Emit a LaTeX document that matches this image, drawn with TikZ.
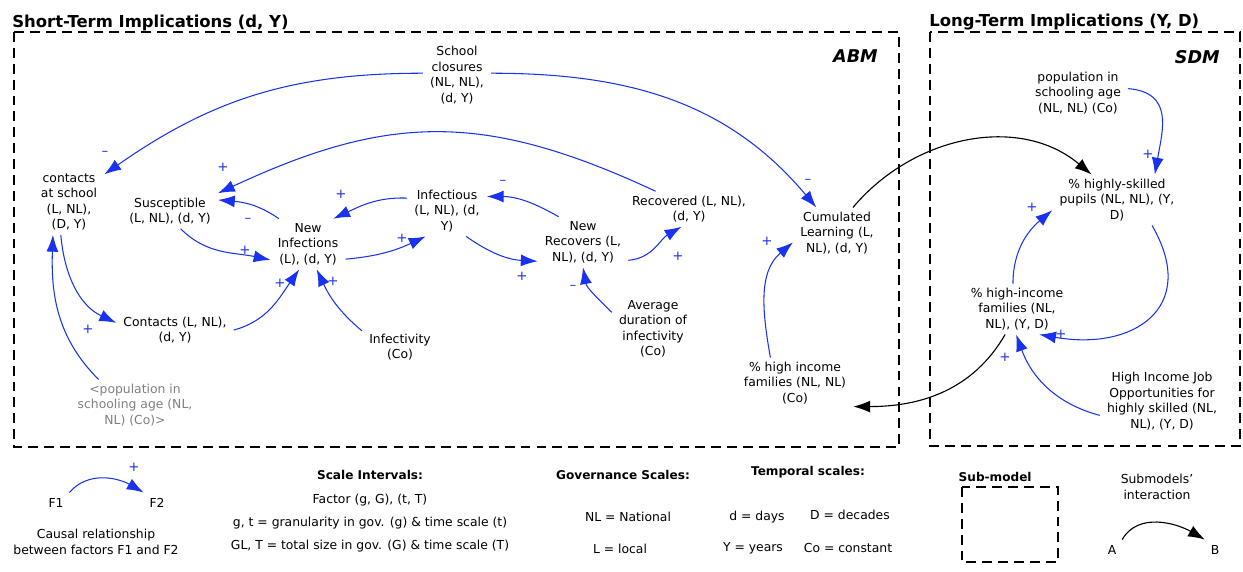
\documentclass[tikz,border=0pt]{standalone}
\usepackage{fontspec}
\setmainfont{DejaVu Sans}
\usetikzlibrary{arrows.meta}
\definecolor{linkblue}{RGB}{25,50,240}
\definecolor{ghostgray}{RGB}{128,128,128}

\begin{document}
\begin{tikzpicture}[x=0.025cm, y=0.025cm,
  var/.style={align=center, font=\fontsize{8.8}{11}\selectfont, inner xsep=5pt, inner ysep=3pt},
  sign/.style={text=linkblue, font=\fontsize{9.5}{10}\selectfont, inner sep=0pt},
  causal/.style={draw=linkblue, line width=0.75pt, -{Latex[length=4.2mm,width=3mm]}},
  couple/.style={draw=black, line width=0.8pt, -{Latex[length=4.2mm,width=3mm]}},
  modelbox/.style={draw, line width=2.1pt, dash pattern=on 7pt off 4.3pt},
  heading/.style={font=\bfseries\fontsize{11.7}{14}\selectfont, anchor=base west, inner sep=0pt},
  tag/.style={font=\bfseries\itshape\fontsize{12.5}{14}\selectfont, anchor=base east, inner sep=0pt},
  legendtext/.style={font=\fontsize{8.8}{11}\selectfont, align=center, inner sep=1pt},
  legendhead/.style={legendtext, font=\bfseries\fontsize{8.6}{11}\selectfont}
]
\useasboundingbox (0,0) rectangle (1243,-572);

% sub-model frames
\draw[modelbox] (14,-32) rectangle (899,-447);
\draw[modelbox] (930,-32) rectangle (1240,-446);
\node[heading] (shortterm) at (12,-27) {Short-Term Implications (d, Y)};
\node[heading] (longterm) at (929,-26) {Long-Term Implications (Y, D)};
\node[tag] (abm) at (878,-62) {ABM};
\node[tag] (sdm) at (1220,-63) {SDM};

% ABM variables
\node[var] (closure) at (457,-75) {School\\closures\\(NL, NL),\\(d, Y)};
\node[var] (cschool) at (69,-202) {contacts\\at school\\(L, NL),\\(D, Y)};
\node[var] (suscept) at (170,-211) {Susceptible\\(L, NL), (d, Y)};
\node[var] (newinf) at (308,-244) {New\\Infections\\(L), (d, Y)};
\node[var] (infectious) at (447,-211) {Infectious\\(L, NL), (d,\\Y)};
\node[var] (newrec) at (583,-242) {New\\Recovers (L,\\NL), (d, Y)};
\node[var] (recovered) at (689,-209) {Recovered (L, NL),\\(d, Y)};
\node[var] (cumlearn) at (837,-233) {Cumulated\\Learning (L,\\NL), (d, Y)};
\node[var] (contacts) at (175,-330) {Contacts (L, NL),\\(d, Y)};
\node[var] (infectivity) at (400,-347) {Infectivity\\(Co)};
\node[var] (avgdur) at (653,-329) {Average\\duration of\\infectivity\\(Co)};
\node[var] (hincome) at (795,-383) {\% high income\\families (NL, NL)\\(Co)};
\node[var, text=ghostgray] (popabm) at (135,-405) {<population in\\schooling age (NL,\\NL) (Co)>};

% SDM variables
\node[var] (popsdm) at (1078,-93) {population in\\schooling age\\(NL, NL) (Co)};
\node[var] (hskilled) at (1117,-200) {\% highly-skilled\\pupils (NL, NL), (Y,\\D)};
\node[var] (hifam) at (1017,-309) {\% high-income\\families (NL,\\NL), (Y, D)};
\node[var] (hijob) at (1162,-401) {High Income Job\\Opportunities for\\highly skilled (NL,\\NL), (Y, D)};

% causal links
\draw[causal] (closure.177) to[out=180,in=35] (cschool.38);
\draw[causal] (closure.3) to[out=0,in=130] (cumlearn.129);
\draw[causal] (recovered.152) to[out=155,in=25,looseness=1.1] (suscept.north east);
\draw[causal] (newinf.139) to[out=145,in=-5] (suscept.13);
\draw[causal] (suscept.-59) to[out=-45,in=168] (newinf.203);
\draw[causal] (infectious.162) to[out=178,in=25] (newinf.45);
\draw[causal] (newinf.-22) to[out=5,in=205] (infectious.230);
\draw[causal] (newrec.134) to[out=150,in=0] (infectious.20);
\draw[causal] (infectious.-53) to[out=-35,in=177] (newrec.203);
\draw[causal] (newrec.-22) to[out=5,in=210] (recovered.247);
\draw[causal] (avgdur.158) to[out=135,in=-80] (newrec.270);
\draw[causal] (cschool.256) to[out=-85,in=155] (contacts.173);
\draw[causal] (popabm.145) to[out=135,in=-92] (cschool.244);
\draw[causal] (contacts.east) to[out=15,in=235] (newinf.251);
\draw[causal] (infectivity.157) to[out=140,in=-65] (newinf.289);
\draw[causal] (hincome.134) to[out=100,in=220] (cumlearn.192);
\draw[causal] (popsdm.5) to[out=-5,in=80,looseness=1.3] (hskilled.34);
\draw[causal] (hifam.99) to[out=90,in=220] (hskilled.189);
\draw[causal] (hskilled.-36) to[out=-60,in=-10,looseness=1.55] (hifam.311);
\draw[causal] (hijob.193) to[out=165,in=-70] (hifam.268);

% links between sub-models
\draw[couple] (cumlearn.58) to[out=50,in=140] (hskilled.135);
\draw[couple] (hifam.245) to[out=240,in=0] (hincome.-22);

% polarities
\node[sign] (p1) at (105,-153) {--};
\node[sign] (p2) at (808,-181) {--};
\node[sign] (p3) at (223,-167) {+};
\node[sign] (p4) at (248,-220) {--};
\node[sign] (p5) at (245,-250) {+};
\node[sign] (p6) at (341,-194) {+};
\node[sign] (p7) at (402,-238) {+};
\node[sign] (p8) at (503,-182) {--};
\node[sign] (p9) at (522,-276) {+};
\node[sign] (p10) at (678,-256) {+};
\node[sign] (p11) at (573,-287) {--};
\node[sign] (p12) at (88,-329) {+};
\node[sign] (p13) at (280,-283) {+};
\node[sign] (p14) at (333,-281) {+};
\node[sign] (p15) at (767,-241) {+};
\node[sign] (p16) at (1148,-154) {+};
\node[sign] (p17) at (1032,-207) {+};
\node[sign] (p18) at (1061,-334) {+};
\node[sign] (p19) at (1005,-357) {+};

% legend
\node[legendtext, inner sep=4pt] (f1) at (56,-503) {F1};
\node[legendtext, inner sep=4pt] (f2) at (157,-503) {F2};
\draw[causal] (f1.north east) to[out=50,in=150] (f2.north west);
\node[sign] (fplus) at (134,-467) {+};
\node[legendtext] (causaltext) at (96,-542) {Causal relationship\\between factors F1 and F2};

\node[legendhead] (scalehead) at (370,-475) {Scale Intervals:};
\node[legendtext] (factor) at (370,-500) {Factor (g, G), (t, T)};
\node[legendtext] (granul) at (370,-523) {g, t = granularity in gov. (g) \& time scale (t)};
\node[legendtext] (totsize) at (370,-546) {GL, T = total size in gov. (G) \& time scale (T)};

\node[legendhead] (govhead) at (623,-475) {Governance Scales:};
\node[legendtext] (national) at (628,-517) {NL = National};
\node[legendtext] (local) at (620,-549) {L = local};

\node[legendhead] (temphead) at (808,-472) {Temporal scales:};
\node[legendtext] (days) at (757,-517) {d = days};
\node[legendtext] (decades) at (850,-515) {D = decades};
\node[legendtext] (years) at (753,-548) {Y = years};
\node[legendtext] (constant) at (848,-548) {Co = constant};

\node[legendhead, anchor=base west] (subhead) at (957,-481) {Sub-model};
\draw[modelbox] (962,-487) rectangle (1058,-562);

\node[legendtext] (interhead) at (1157,-487) {Submodels'\\interaction};
\node[legendtext, inner sep=4pt] (sa) at (1112,-550) {A};
\node[legendtext, inner sep=4pt] (sb) at (1215,-550) {B};
\draw[couple] (sa.north east) to[out=60,in=150] (sb.north west);

\end{tikzpicture}
\end{document}
